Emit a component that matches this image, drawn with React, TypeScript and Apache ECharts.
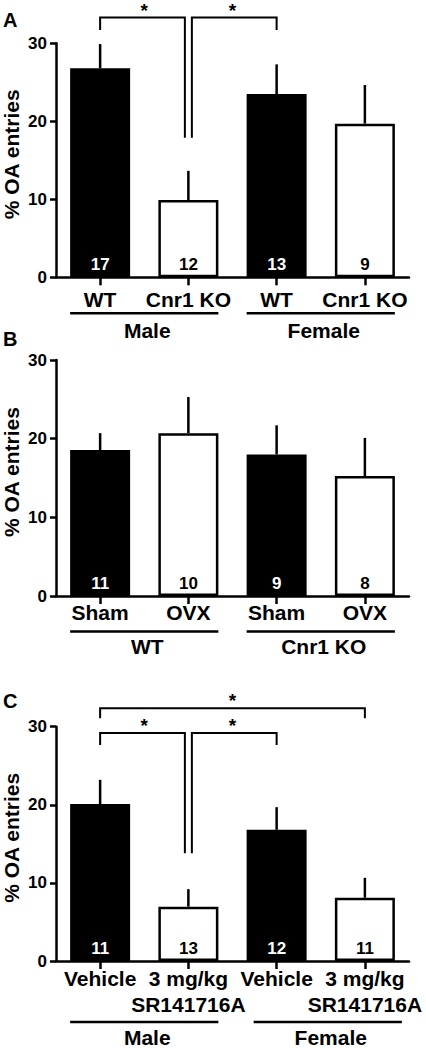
import React, { useEffect, useRef } from "react";
import * as echarts from "echarts";

const FONT = "'Liberation Sans', Arial, Helvetica, sans-serif";

// Panel A
const categoriesA = ["WT", "Cnr1 KO", "WT", "Cnr1 KO"];
const meansA = [26.8, 9.9, 23.5, 19.7];
const errorTopA = [29.9, 13.65, 27.3, 24.65];
const nA = ["17", "12", "13", "9"];
const groupsA = ["Male", "Female"];
// [fromIndex, toIndex, bracketTop, leftLegEnd, rightLegEnd]
const bracketsA = [
  [0, 1, 33.3, 31.7, 17.9],
  [1, 2, 33.3, 17.9, 31.7],
];

// Panel B
const categoriesB = ["Sham", "OVX", "Sham", "OVX"];
const meansB = [18.55, 20.7, 18.0, 15.25];
const errorTopB = [20.7, 25.3, 21.7, 20.1];
const nB = ["11", "10", "9", "8"];
const groupsB = ["WT", "Cnr1 KO"];
const bracketsB: number[][] = [];

// Panel C
const categoriesC = ["Vehicle", "3 mg/kg\nSR141716A", "Vehicle", "3 mg/kg\nSR141716A"];
const meansC = [20.1, 6.95, 16.8, 8.1];
const errorTopC = [23.2, 9.2, 19.7, 10.65];
const nC = ["11", "13", "12", "11"];
const groupsC = ["Male", "Female"];
const bracketsC = [
  [0, 3, 32.35, 31.07, 31.07],
  [0, 1, 29.2, 27.65, 13.8],
  [1, 2, 29.2, 13.8, 27.65],
];

const yTicks = { min: 0, max: 30, interval: 10 };

const BAR_W = 60;
const LINE_W = 2.5;
const BIG = 21;

const panels = [
  {
    letter: "A", cats: categoriesA, means: meansA, errs: errorTopA, ns: nA, groups: groupsA, brackets: bracketsA,
    top: 43.3, height: 234, labelMargin: 11.5, labelLH: 21, lineOff: 36, textOff: 53, groupShift: [0, 0], letterY: 20,
  },
  {
    letter: "B", cats: categoriesB, means: meansB, errs: errorTopB, ns: nB, groups: groupsB, brackets: bracketsB,
    top: 360, height: 236, labelMargin: 6, labelLH: 21, lineOff: 35.5, textOff: 50, groupShift: [0, 0], letterY: 339,
  },
  {
    letter: "C", cats: categoriesC, means: meansC, errs: errorTopC, ns: nC, groups: groupsC, brackets: bracketsC,
    top: 726.7, height: 234.3, labelMargin: 4, labelLH: 26, lineOff: 61, textOff: 76, groupShift: [0, 7], letterY: 701,
  },
];

function buildOption() {
  const grid: any[] = [];
  const xAxis: any[] = [];
  const yAxis: any[] = [];
  const series: any[] = [];
  const graphic: any[] = [];

  panels.forEach((p, k) => {
    grid.push({ left: 56, width: 353, top: p.top, height: p.height, containLabel: false, outerBoundsMode: "none" });
    xAxis.push({
      type: "category",
      gridIndex: k,
      data: p.cats,
      axisLine: { show: true, lineStyle: { color: "#000", width: LINE_W } },
      axisTick: { show: true, alignWithLabel: true, length: 8, lineStyle: { color: "#000", width: LINE_W } },
      axisLabel: {
        interval: 0, margin: p.labelMargin, color: "#000", fontFamily: FONT, fontWeight: "bold",
        fontSize: BIG, lineHeight: p.labelLH,
      },
      splitLine: { show: false },
    });
    yAxis.push({
      type: "value",
      gridIndex: k,
      min: yTicks.min, max: yTicks.max, interval: yTicks.interval,
      name: "% OA entries",
      nameLocation: "middle",
      nameGap: 45,
      nameMoveOverlap: false,
      nameTextStyle: {
        color: "#000", fontFamily: FONT, fontWeight: "bold", fontSize: BIG,
        align: "center", verticalAlign: "middle", padding: [0, 0, 0, 12],
      },
      axisLine: { show: true, onZero: false, lineStyle: { color: "#000", width: LINE_W } },
      axisTick: { show: true, length: 6, lineStyle: { color: "#000", width: LINE_W } },
      axisLabel: { margin: 9, color: "#000", fontFamily: FONT, fontWeight: "bold", fontSize: 17 },
      splitLine: { show: false },
    });

    series.push({
      type: "bar",
      xAxisIndex: k, yAxisIndex: k,
      barWidth: BAR_W,
      z: 2,
      data: p.means.map((v, i) => ({
        value: v,
        itemStyle: i % 2 === 0
          ? { color: "#000", borderWidth: 0 }
          : { color: "#fff", borderColor: "#000", borderWidth: LINE_W },
        label: { color: i % 2 === 0 ? "#fff" : "#000" },
      })),
      label: {
        show: true, position: "insideBottom", distance: 4,
        formatter: (pr: any) => p.ns[pr.dataIndex],
        fontFamily: FONT, fontWeight: "bold", fontSize: 17,
      },
    });

    series.push({
      type: "custom",
      xAxisIndex: k, yAxisIndex: k,
      z: 3,
      clip: false,
      data: p.means.map((m, i) => [i, m, p.errs[i]]),
      encode: { x: 0, y: [1, 2] },
      renderItem: (params: any, api: any) => {
        const i = api.value(0);
        const a = api.coord([i, api.value(1)]);
        const b = api.coord([i, api.value(2)]);
        return {
          type: "line",
          shape: { x1: a[0], y1: a[1], x2: b[0], y2: b[1] },
          style: { stroke: "#000", lineWidth: LINE_W },
        };
      },
    });

    if (p.brackets.length) {
      series.push({
        type: "custom",
        xAxisIndex: k, yAxisIndex: k,
        z: 4,
        clip: false,
        data: p.brackets,
        encode: { x: [0, 1], y: [2, 3, 4] },
        renderItem: (params: any, api: any) => {
          const a = api.value(0), b = api.value(1), top = api.value(2), la = api.value(3), lb = api.value(4);
          const shareA = p.brackets.some((o, j) => j !== params.dataIndex && o[1] === a && o[2] === top);
          const shareB = p.brackets.some((o, j) => j !== params.dataIndex && o[0] === b && o[2] === top);
          const pa = api.coord([a, top]);
          const pb = api.coord([b, top]);
          const xa = pa[0] + (shareA ? 3.5 : 0);
          const xb = pb[0] - (shareB ? 3.5 : 0);
          const ya = api.coord([a, la])[1];
          const yb = api.coord([b, lb])[1];
          return {
            type: "group",
            children: [
              {
                type: "polyline",
                shape: { points: [[xa, ya], [xa, pa[1]], [xb, pa[1]], [xb, yb]] },
                style: { stroke: "#000", lineWidth: 2, fill: null },
              },
              {
                type: "text",
                x: (pa[0] + pb[0]) / 2,
                y: pa[1] - 17,
                style: {
                  text: "*", fill: "#000", font: `bold 19px ${FONT}`,
                  textAlign: "center", textVerticalAlign: "top",
                },
              },
            ],
          };
        },
      });
    }

    series.push({
      type: "custom",
      xAxisIndex: k, yAxisIndex: k,
      z: 4,
      clip: false,
      data: p.groups.map((g, gi) => [gi * 2, gi * 2 + 1, 0]),
      encode: { x: [0, 1], y: 2 },
      renderItem: (params: any, api: any) => {
        const gi = params.dataIndex;
        const pa = api.coord([api.value(0), 0]);
        const pb = api.coord([api.value(1), 0]);
        const sh = p.groupShift[gi];
        const x1 = pa[0] - BAR_W / 2 + sh;
        const x2 = pb[0] + BAR_W / 2 + sh;
        return {
          type: "group",
          children: [
            {
              type: "line",
              shape: { x1, y1: pa[1] + p.lineOff, x2, y2: pa[1] + p.lineOff },
              style: { stroke: "#000", lineWidth: LINE_W },
            },
            {
              type: "text",
              x: (x1 + x2) / 2 + 3,
              y: pa[1] + p.textOff,
              style: {
                text: p.groups[gi], fill: "#000", font: `bold ${BIG}px ${FONT}`,
                textAlign: "center", textVerticalAlign: "middle",
              },
            },
          ],
        };
      },
    });

    graphic.push({
      type: "text",
      left: 3,
      top: p.letterY - 10,
      style: { text: p.letter, fill: "#000", font: `bold 20px ${FONT}` },
    });
  });

  return {
    animation: false,
    backgroundColor: "#fff",
    grid, xAxis, yAxis, series, graphic,
  };
}

export default function App() {
  const ref = useRef<HTMLDivElement>(null);
  useEffect(() => {
    if (!ref.current) return;
    const chart = echarts.init(ref.current, undefined, { renderer: "svg" });
    chart.setOption(buildOption() as any);
    return () => chart.dispose();
  }, []);
  return (
    <div
      ref={ref}
      style={{ position: "absolute", left: 0, top: 0, width: 426, height: 1048, background: "#fff" }}
    />
  );
}
